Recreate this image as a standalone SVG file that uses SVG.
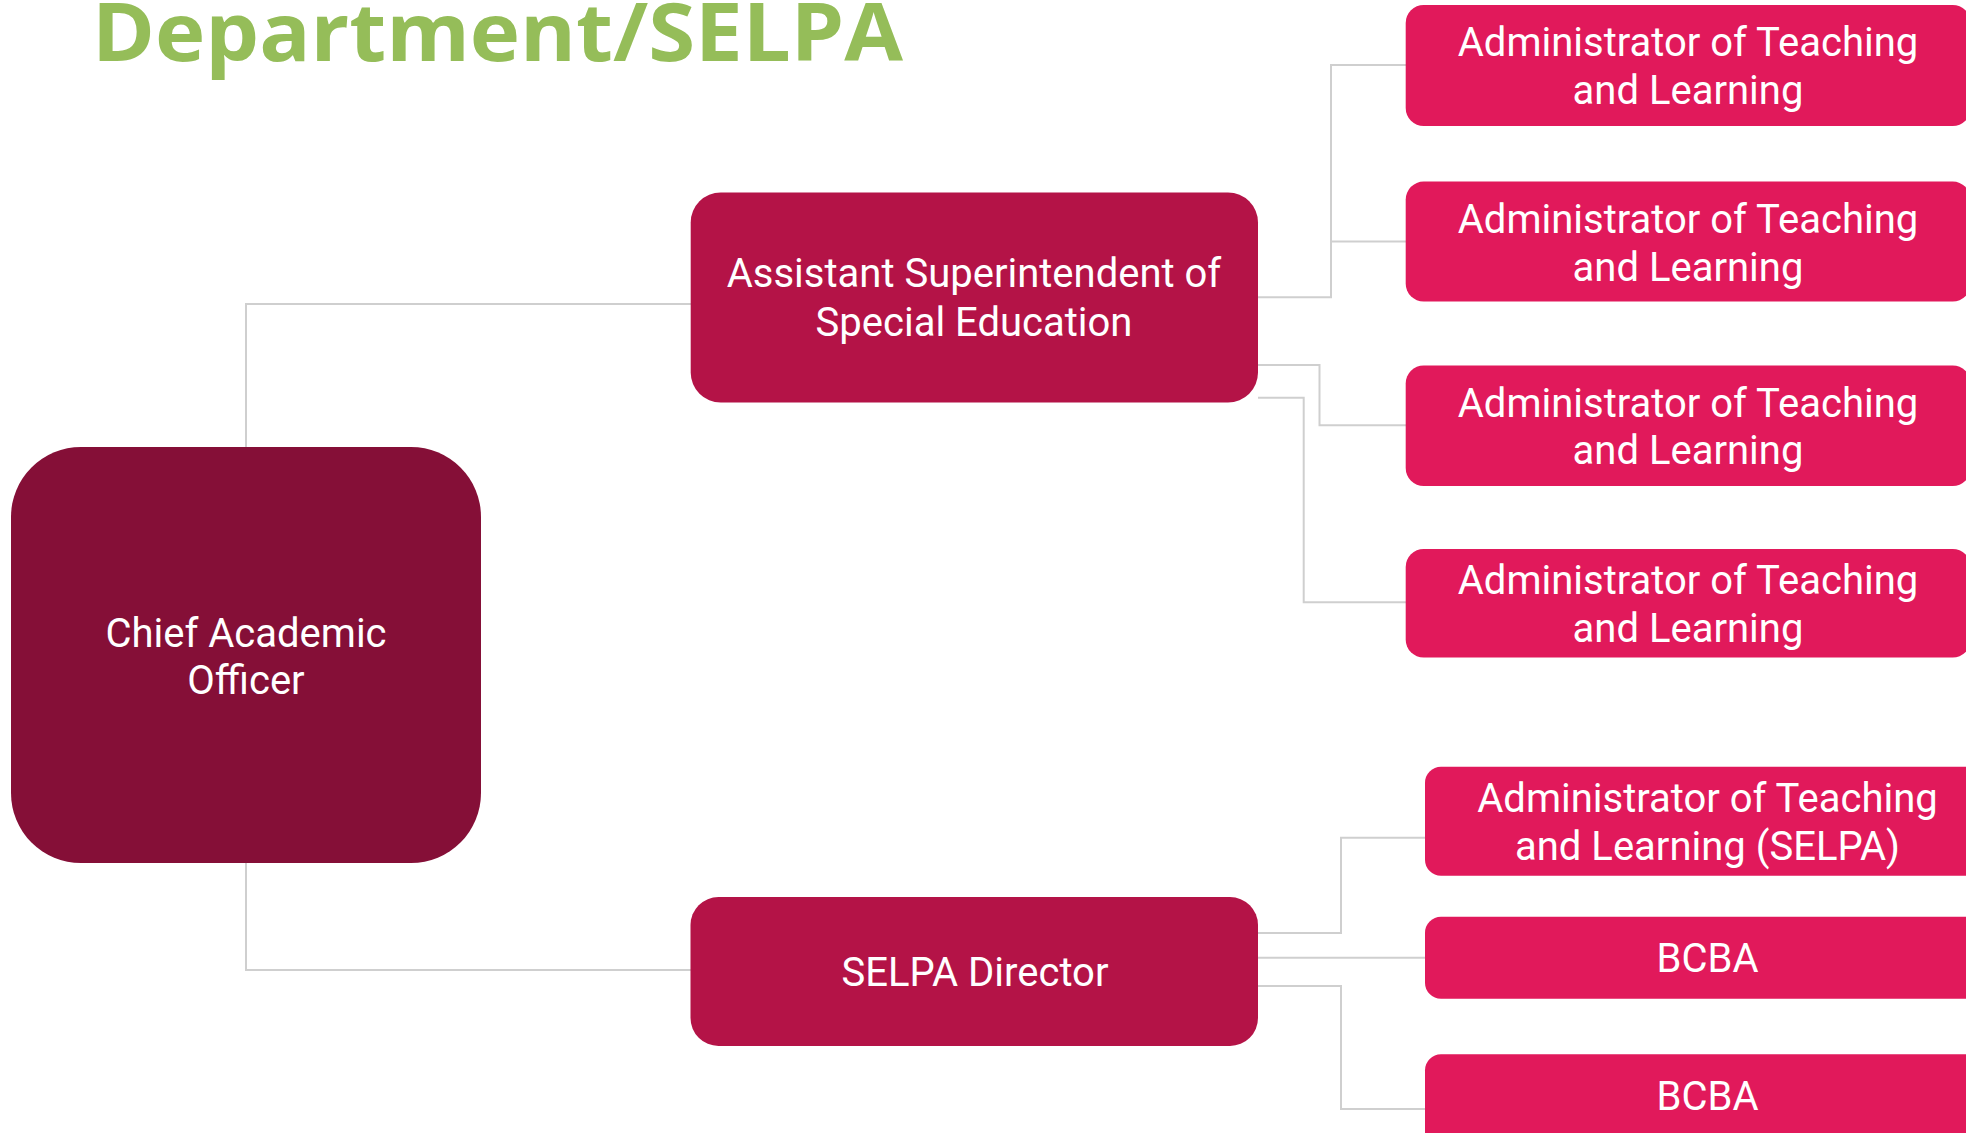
<svg xmlns="http://www.w3.org/2000/svg" width="1966" height="1133" viewBox="0 0 1966 1133">
  <style>
    .title { font-family: "Open Sans", "Liberation Sans", sans-serif; font-weight: 700; font-size: 80px; fill: #95BD59; }
    .lbl { font-family: Roboto, "Liberation Sans", sans-serif; font-size: 40px; fill: #FFFFFF; text-anchor: middle; }
    .conn { fill: none; stroke: #CFCFCF; stroke-width: 2; }
    .lvl0 { fill: #850F37; }
    .lvl1 { fill: #B41347; }
    .lvl2 { fill: #E1195B; }
  </style>

  <rect width="1966" height="1133" fill="#FFFFFF"/>

  <text class="title" x="92" y="61" textLength="811" lengthAdjust="spacingAndGlyphs">Department/SELPA</text>

  <!-- connectors, drawn beneath the boxes -->
  <g id="connectors">
    <path class="conn" d="M691 304 H246 V447"/>
    <path class="conn" d="M246 863 V970 H691"/>
    <path class="conn" d="M1258 297.3 H1331 V65 H1406"/>
    <path class="conn" d="M1331 241.5 H1406"/>
    <path class="conn" d="M1258 365 H1319.5 V425.2 H1406"/>
    <path class="conn" d="M1258 397.7 H1303.7 V602.3 H1406"/>
    <path class="conn" d="M1258 933 H1341 V837.7 H1425"/>
    <path class="conn" d="M1258 957.7 H1425"/>
    <path class="conn" d="M1258 986 H1341 V1109 H1425"/>
  </g>

  <g id="chief-academic-officer">
    <rect class="lvl0" x="11" y="447" width="470" height="416" rx="70" ry="70"/>
    <text class="lbl" x="246" y="646.5">Chief Academic</text>
    <text class="lbl" x="246" y="693.5">Officer</text>
  </g>

  <g id="asst-superintendent">
    <rect class="lvl1" x="690.7" y="192.5" width="567.3" height="210" rx="30" ry="30"/>
    <text class="lbl" x="974" y="287.3">Assistant Superintendent of</text>
    <text class="lbl" x="974" y="335.7">Special Education</text>
  </g>

  <g id="selpa-director">
    <rect class="lvl1" x="690.5" y="897" width="567.5" height="149" rx="28" ry="28"/>
    <text class="lbl" x="975" y="986">SELPA Director</text>
  </g>

  <g id="admin-tl-1">
    <rect class="lvl2" x="1405.7" y="5" width="565" height="121" rx="18" ry="18"/>
    <text class="lbl" x="1688" y="55.5">Administrator of Teaching</text>
    <text class="lbl" x="1688" y="103.5">and Learning</text>
  </g>

  <g id="admin-tl-2">
    <rect class="lvl2" x="1405.7" y="181.6" width="565" height="120" rx="18" ry="18"/>
    <text class="lbl" x="1688" y="232.5">Administrator of Teaching</text>
    <text class="lbl" x="1688" y="280.5">and Learning</text>
  </g>

  <g id="admin-tl-3">
    <rect class="lvl2" x="1405.7" y="365.4" width="565" height="120.6" rx="18" ry="18"/>
    <text class="lbl" x="1688" y="416.5">Administrator of Teaching</text>
    <text class="lbl" x="1688" y="464">and Learning</text>
  </g>

  <g id="admin-tl-4">
    <rect class="lvl2" x="1405.7" y="549" width="565" height="108.5" rx="18" ry="18"/>
    <text class="lbl" x="1688" y="594">Administrator of Teaching</text>
    <text class="lbl" x="1688" y="641.5">and Learning</text>
  </g>

  <g id="admin-tl-selpa">
    <rect class="lvl2" x="1425" y="766.7" width="565" height="109" rx="16" ry="16"/>
    <text class="lbl" x="1707.5" y="812">Administrator of Teaching</text>
    <text class="lbl" x="1707.5" y="860">and Learning (SELPA)</text>
  </g>

  <g id="bcba-1">
    <rect class="lvl2" x="1425" y="916.7" width="565" height="82" rx="16" ry="16"/>
    <text class="lbl" x="1707.5" y="971.7">BCBA</text>
  </g>

  <g id="bcba-2">
    <rect class="lvl2" x="1425" y="1054.3" width="565" height="110" rx="16" ry="16"/>
    <text class="lbl" x="1707.5" y="1110">BCBA</text>
  </g>
</svg>
